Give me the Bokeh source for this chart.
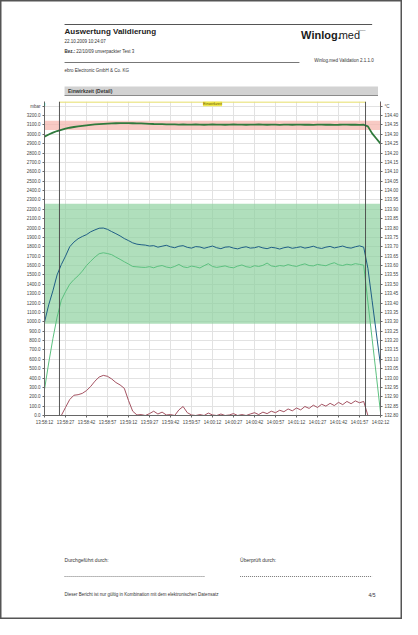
import numpy as np
from bokeh.plotting import figure
from bokeh.models import (Range1d, LinearAxis, FixedTicker, BoxAnnotation, Span, Label,
                          NumeralTickFormatter, ColumnDataSource)
from bokeh.layouts import column
from bokeh.embed import file_html
from bokeh.resources import INLINE
from bokeh.core.properties import value

FONT = "Liberation Sans"

# ---------------- data ----------------
elapsed_s = list(range(0, 241, 3))            # sample times, seconds after 13:58:12
time_tick_s = list(range(0, 241, 15))
time_tick_labels = ["13:58:12", "13:58:27", "13:58:42", "13:58:57", "13:59:12", "13:59:27",
                    "13:59:42", "13:59:57", "14:00:12", "14:00:27", "14:00:42", "14:00:57",
                    "14:01:12", "14:01:27", "14:01:42", "14:01:57", "14:02:12"]

pressure_mbar = [2975, 2998, 3018, 3035, 3048, 3060, 3070, 3078, 3085, 3091,
                 3096, 3101, 3105, 3109, 3112, 3114, 3116, 3118, 3119, 3119,
                 3119, 3118, 3117, 3116, 3114, 3112, 3110, 3109, 3108, 3107,
                 3106,
                 3105, 3104, 3106, 3104, 3103, 3105, 3104, 3102, 3104, 3105,
                 3103, 3104, 3102, 3103, 3105, 3104, 3103, 3102, 3104, 3103,
                 3105, 3103, 3102, 3104, 3103, 3101, 3103, 3104, 3102, 3103,
                 3104, 3102, 3103, 3101, 3103, 3104, 3102, 3103, 3101, 3102,
                 3104, 3103, 3102, 3103, 3101, 3102,
                 3085, 3010, 2955, 2900]

temp_blue_c = [133.298, 133.390, 133.465, 133.550, 133.605, 133.650, 133.700, 133.725, 133.743, 133.755,
               133.765, 133.780, 133.790, 133.799, 133.800, 133.793, 133.781, 133.770, 133.758, 133.744,
               133.733, 133.721, 133.714, 133.711, 133.709,
               133.704, 133.706, 133.698, 133.703, 133.708, 133.700, 133.695, 133.703, 133.706, 133.697,
               133.693, 133.701, 133.699, 133.692, 133.698, 133.704, 133.695, 133.690, 133.698, 133.700,
               133.693, 133.689, 133.696, 133.700, 133.693, 133.695, 133.701, 133.694, 133.690, 133.697,
               133.694, 133.688, 133.695, 133.699, 133.692, 133.696, 133.700, 133.693, 133.697, 133.703,
               133.695, 133.691, 133.698, 133.702, 133.694, 133.699, 133.704, 133.696, 133.693, 133.700,
               133.705, 133.698,
               133.585, 133.413, 133.240, 133.068]

temp_lightgreen_c = [132.939, 133.080, 133.210, 133.325, 133.415, 133.460, 133.500, 133.525, 133.545, 133.570,
                     133.600, 133.623, 133.645, 133.663, 133.668, 133.664, 133.658, 133.645, 133.633, 133.620,
                     133.608, 133.595, 133.593, 133.591, 133.590,
                     133.594, 133.588, 133.596, 133.600, 133.592, 133.588, 133.595, 133.606, 133.593, 133.589,
                     133.597, 133.593, 133.587, 133.599, 133.610, 133.595, 133.590, 133.594, 133.598, 133.591,
                     133.588, 133.597, 133.603, 133.594, 133.590, 133.599, 133.595, 133.601, 133.613, 133.598,
                     133.594, 133.600, 133.597, 133.605, 133.599, 133.595, 133.603, 133.609, 133.600, 133.598,
                     133.606, 133.602, 133.599, 133.608, 133.615, 133.604, 133.600, 133.607, 133.603, 133.610,
                     133.606, 133.602,
                     133.405, 133.210, 133.015, 132.816]

temp_red_c = [None, None, None, None, 132.800, 132.843, 132.885, 132.908, 132.911, 132.918,
              132.933, 132.955, 132.983, 133.005, 133.014, 133.009, 132.995, 132.976, 132.963, 132.945,
              132.880, 132.823, 132.803, 132.805, 132.800,
              132.810, 132.823, 132.808, 132.818, 132.803, 132.805, 132.800, 132.830, 132.848, 132.815,
              132.803, 132.800, 132.805, 132.800, 132.813, 132.803, 132.800, 132.808, 132.800, 132.803,
              132.810, 132.800, 132.805, 132.800, 132.808, 132.815, 132.805, 132.818, 132.810, 132.823,
              132.815, 132.828, 132.820, 132.835, 132.825, 132.840, 132.830, 132.848, 132.838, 132.855,
              132.843, 132.860, 132.850, 132.865, 132.853, 132.870, 132.858, 132.875, 132.863, 132.878,
              132.868, 132.875,
              132.800, None, None, None]

pressure_ticks = list(range(0, 3301, 100))
temp_ticks = [round(132.80 + 0.05 * i, 2) for i in range(34)]
pressure_band_mbar = [3045, 3145]
temp_band_c = [133.29, 133.93]
hold_start_s = 10.7
hold_end_s = 229.3
hold_label = "Einwirkzeit"

BORDER = "#555555"

# ---------------- helpers ----------------
def sheet(h, shadow):
    f = figure(width=402, height=h, x_range=Range1d(0, 402), y_range=Range1d(h, 0),
               output_backend="svg", toolbar_location=None, min_border=0,
               x_axis_location=None, y_axis_location=None, outline_line_color=None,
               border_fill_color=None, background_fill_color=None,
               styles={"box-shadow": shadow, "background": "white"})
    f.grid.visible = False
    return f

def txt(f, x, y, s, size, bold=False, align="left", color="#333333"):
    f.text(x=[x], y=[y], text=[s], text_font=value(FONT), text_font_size=size,
           text_font_style="bold" if bold else "normal", text_align=align,
           text_baseline="middle", text_color=color)

# ---------------- header ----------------
head = sheet(100, f"inset 1.5px 0 0 {BORDER}, inset -1.5px 0 0 {BORDER}, inset 0 1.5px 0 {BORDER}")
head.segment(x0=[24], y0=[24], x1=[392], y1=[24], line_color="#555555", line_width=1.2)
txt(head, 24, 30.5, "Auswertung Validierung", "8px", bold=True, color="#222222")
txt(head, 24, 40.5, "22.10.2009 10:24:07", "4.5px")
txt(head, 24, 51, "Bez.:", "4.5px", bold=True)
txt(head, 38, 51, "22/10/09 unverpackter Test 3", "4.5px")
head.segment(x0=[24], y0=[62], x1=[305], y1=[62], line_color="#777777", line_width=1)
txt(head, 24, 69.5, "ebro Electronic GmbH & Co. KG", "4.5px")
txt(head, 307, 34, "Winlog.", "11px", bold=True, color="#1a1a1a")
txt(head, 352, 34, "med", "11px", color="#1a1a1a")
txt(head, 373, 29.5, "software", "2.5px", color="#555555")
txt(head, 394, 60, "Winlog.med Validation 2.1.1.0", "4.5px", align="right")
head.quad(left=[24], right=[399], top=[86], bottom=[95], fill_color="#d2d2d2", line_color=None)
head.segment(x0=[24], y0=[95], x1=[399], y1=[95], line_color="#8a8a8a", line_width=1)
txt(head, 28, 90.5, "Einwirkzeit (Detail)", "5px", bold=True, color="#333333")

# ---------------- chart ----------------
src = ColumnDataSource(dict(
    t=np.array(elapsed_s, dtype=float),
    p=np.array(pressure_mbar, dtype=float),
    tb=np.array(temp_blue_c, dtype=float),
    tg=np.array(temp_lightgreen_c, dtype=float),
    tr=np.array(temp_red_c, dtype=float),
))

p = figure(width=402, height=332, x_range=Range1d(0, 240), y_range=Range1d(0, 3350),
           output_backend="svg", toolbar_location=None,
           min_border_left=44, min_border_right=22, min_border_top=1, min_border_bottom=17,
           outline_line_color=None, border_fill_color=None, background_fill_color="white",
           styles={"box-shadow": f"inset 1.5px 0 0 {BORDER}, inset -1.5px 0 0 {BORDER}",
                   "background": "white"})
p.extra_y_ranges = {"temp": Range1d(132.80, 134.475)}

def style_axis(ax):
    ax.axis_line_color = "#666666"
    ax.major_tick_line_color = "#666666"
    ax.major_tick_out = 2
    ax.major_tick_in = 0
    ax.minor_tick_line_color = None
    ax.major_label_text_font = FONT
    ax.major_label_text_font_size = "4.5px"
    ax.major_label_text_color = "#444444"
    ax.major_label_standoff = 2

xa = p.xaxis[0]
xa.ticker = FixedTicker(ticks=time_tick_s)
xa.major_label_overrides = dict(zip(time_tick_s, time_tick_labels))
style_axis(xa)

ya = p.yaxis[0]
ya.ticker = FixedTicker(ticks=pressure_ticks)
ya.formatter = NumeralTickFormatter(format="0.0")
ya.major_label_overrides = {pressure_ticks[-1]: "mbar"}
style_axis(ya)

ra = LinearAxis(y_range_name="temp", ticker=FixedTicker(ticks=temp_ticks),
                formatter=NumeralTickFormatter(format="0.00"),
                major_label_overrides={temp_ticks[-1]: "°C"})
style_axis(ra)
p.add_layout(ra, "right")

p.xgrid.grid_line_color = "#e2e2e2"
p.ygrid.grid_line_color = "#e2e2e2"

p.add_layout(BoxAnnotation(bottom=pressure_band_mbar[0], top=pressure_band_mbar[1],
                           fill_color="#f5b8b0", fill_alpha=0.75, line_color=None, level="underlay"))
p.add_layout(BoxAnnotation(bottom=temp_band_c[0], top=temp_band_c[1], y_range_name="temp",
                           fill_color="#8fd1a0", fill_alpha=0.7, line_color=None, level="underlay"))

p.add_layout(Span(location=hold_start_s, dimension="height", line_color="#444444", line_width=0.9))
p.add_layout(Span(location=hold_end_s, dimension="height", line_color="#444444", line_width=0.9))
p.segment(x0=[hold_start_s], x1=[hold_end_s], y0=[3345], y1=[3345], line_color="#e9e27a", line_width=1.5)
p.add_layout(Label(x=(hold_start_s + hold_end_s) / 2, y=3325, text=hold_label,
                   text_align="center", text_baseline="middle", text_font=FONT,
                   text_font_size="4px", text_color="#6b5a00",
                   background_fill_color="#f0e84a"))

p.line("t", "tr", source=src, y_range_name="temp", line_color="#9a4050", line_width=0.9)
p.line("t", "tg", source=src, y_range_name="temp", line_color="#5cc07f", line_width=1)
p.line("t", "tb", source=src, y_range_name="temp", line_color="#1f5e85", line_width=1)
p.line("t", "p", source=src, line_color="#2f7a3c", line_width=1.8)

# series markers above the axes
p.add_layout(Label(x=0, y=3320, text="■", x_offset=-1, text_align="center", text_baseline="middle",
                   text_font=FONT, text_font_size="6px", text_color="#2f8a3e"))
for off, col in [(1.5, "#d03848"), (5, "#1f5e85"), (8.5, "#3cb55a")]:
    p.add_layout(Label(x=240, y=3320, text="■", x_offset=off, text_align="center",
                       text_baseline="middle", text_font=FONT, text_font_size="6px", text_color=col))

# ---------------- footer ----------------
foot = sheet(187, f"inset 1.5px 0 0 {BORDER}, inset -1.5px 0 0 {BORDER}, inset 0 -1.5px 0 {BORDER}")
txt(foot, 24, 127, "Durchgeführt durch:", "5px")
txt(foot, 234, 127, "Überprüft durch:", "5px")
foot.segment(x0=[24, 234], y0=[144, 144], x1=[192, 392], y1=[144, 144],
             line_color="#555555", line_width=0.8, line_dash="1 1")
txt(foot, 24, 162, "Dieser Bericht ist nur gültig in Kombination mit dem elektronischen Datensatz", "4.5px")
txt(foot, 396, 162, "4/5", "5px", align="right")

page = column(head, p, foot)
open("out.html", "w").write(file_html(page, INLINE))
